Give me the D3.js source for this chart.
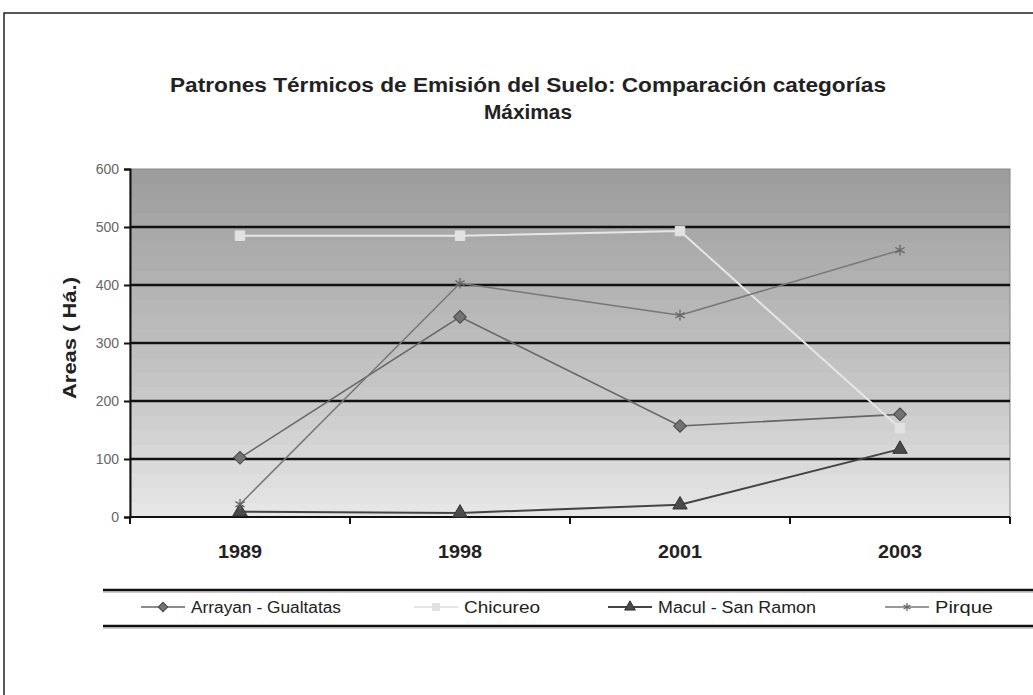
<!DOCTYPE html>
<html><head><meta charset="utf-8">
<script src="https://cdn.jsdelivr.net/npm/d3@7"></script>
<style>body{margin:0;background:#fff}svg{display:block}text{font-family:"Liberation Sans",Arial,sans-serif}</style>
</head><body>
<script>
const categories = ["1989","1998","2001","2003"];
const arrayan = [102, 345, 157, 177];
const chicureo = [485, 485, 493, 153];
const macul = [9, 7, 21, 117];
const pirque = [22, 403, 348, 460];
const seriesNames = ["Arrayan - Gualtatas","Chicureo","Macul - San Ramon","Pirque"];
const yTicks = [0,100,200,300,400,500,600];
const titleLines = ["Patrones Térmicos de Emisión del Suelo: Comparación categorías","Máximas"];
const yTitle = "Areas ( Há.)";

const W = 1033, H = 695;
const m = {left:130, right:1010, top:169, bottom:517};
const svg = d3.select("body").append("svg").attr("width",W).attr("height",H);

// outer frame
svg.append("rect").attr("x",4).attr("y",13).attr("width",1040).attr("height",700)
  .attr("fill","none").attr("stroke","#222").attr("stroke-width",1.5);

const x = d3.scaleBand().domain(categories).range([m.left,m.right]).paddingInner(0).paddingOuter(0);
const y = d3.scaleLinear().domain([0,600]).range([m.bottom,m.top]);
const cx = d => x(d)+x.bandwidth()/2;

// background stepped bands
const bandStep = 25;
const bandColor = d3.scaleLinear().domain([0,200,450,600]).range(["#e8e8e8","#c9c9c9","#adadad","#9b9b9b"]);
const bands = d3.range(0,600,bandStep);
svg.append("g").selectAll("rect").data(bands).join("rect")
  .attr("x",m.left).attr("width",m.right-m.left)
  .attr("y",d=>y(d+bandStep)).attr("height",d=>y(d)-y(d+bandStep)+0.5)
  .attr("fill",d=>bandColor(d+bandStep/2));

// plot border (top/right thin)
svg.append("rect").attr("x",m.left).attr("y",m.top).attr("width",m.right-m.left).attr("height",m.bottom-m.top)
  .attr("fill","none").attr("stroke","#888").attr("stroke-width",1);

// gridlines
svg.append("g").selectAll("line").data(yTicks.filter(v=>v>0&&v<600)).join("line")
  .attr("x1",m.left).attr("x2",m.right).attr("y1",d=>y(d)).attr("y2",d=>y(d))
  .attr("stroke","#111").attr("stroke-width",2.5);

// y axis
const yAxis = d3.axisLeft(y).tickValues(yTicks).tickSize(6).tickPadding(5);
const gy = svg.append("g").attr("transform",`translate(${m.left},0)`).call(yAxis);
gy.select(".domain").attr("stroke","#111").attr("stroke-width",2);
gy.selectAll(".tick line").attr("stroke","#111").attr("stroke-width",2);
gy.selectAll(".tick text").attr("font-size",14).attr("fill","#666").attr("font-family","Liberation Sans, Arial, sans-serif").attr("font-weight","normal");

// x axis
const gx = svg.append("g").attr("transform",`translate(0,${m.bottom})`);
gx.append("line").attr("x1",m.left).attr("x2",m.right).attr("stroke","#111").attr("stroke-width",2);
const bounds = categories.map(c=>x(c)).concat([m.right]);
gx.selectAll("line.tk").data(bounds).join("line").attr("class","tk")
  .attr("x1",d=>d).attr("x2",d=>d).attr("y1",0).attr("y2",7).attr("stroke","#111").attr("stroke-width",2);
gx.selectAll("text").data(categories).join("text")
  .attr("x",d=>cx(d)).attr("y",41).attr("text-anchor","middle")
  .attr("font-size",19).attr("font-weight","bold").attr("fill","#222")
  .attr("textLength",44).attr("lengthAdjust","spacingAndGlyphs").text(d=>d);

// y title
svg.append("text").attr("transform","translate(76,338) rotate(-90)").attr("text-anchor","middle")
  .attr("font-size",19).attr("font-weight","bold").attr("fill","#222")
  .attr("textLength",122).attr("lengthAdjust","spacingAndGlyphs").text(yTitle);

// title
svg.append("g").selectAll("text").data(titleLines).join("text")
  .attr("x",528).attr("y",(d,i)=>92+i*27).attr("text-anchor","middle")
  .attr("font-size",20).attr("font-weight","bold").attr("fill","#222")
  .attr("textLength",(d,i)=>i===0?716:88).attr("lengthAdjust","spacingAndGlyphs")
  .text(d=>d);

// series
const series = [
  {name:seriesNames[0], values:arrayan, stroke:"#666", width:1.6, marker:"diamond", fill:"#737373", mstroke:"#444"},
  {name:seriesNames[1], values:chicureo, stroke:"#e6e6e6", width:2, marker:"square", fill:"#e2e2e2", mstroke:"#e2e2e2"},
  {name:seriesNames[2], values:macul, stroke:"#444", width:2, marker:"triangle", fill:"#4a4a4a", mstroke:"#333"},
  {name:seriesNames[3], values:pirque, stroke:"#777", width:1.5, marker:"star", fill:"none", mstroke:"#666"}
];
const legLen = [150, 76, 158, 58];
const line = d3.line().x((d,i)=>cx(categories[i])).y(d=>y(d));
const symType = {diamond:d3.symbolSquare, square:d3.symbolSquare, triangle:d3.symbolTriangle, star:d3.symbolAsterisk};
const symSize = {diamond:80, square:90, triangle:90, star:80};

function drawMarker(g, s, px, py, scale){
  g.append("path").attr("d",d3.symbol().type(symType[s.marker]).size(symSize[s.marker]*(scale||1))())
    .attr("transform",`translate(${px},${py})` + (s.marker==="diamond"?" rotate(45)":""))
    .attr("fill",s.marker==="star"?"none":s.fill).attr("stroke",s.mstroke).attr("stroke-width",s.marker==="star"?1.3:1);
}

series.forEach(s=>{
  const g = svg.append("g");
  g.append("path").datum(s.values).attr("d",line).attr("fill","none").attr("stroke",s.stroke).attr("stroke-width",s.width);
  s.values.forEach((v,i)=>drawMarker(g,s,cx(categories[i]),y(v)));
});

// legend
const lg = svg.append("g");
[590,626].forEach(yy=>{
  lg.append("line").attr("x1",103).attr("x2",1040).attr("y1",yy).attr("y2",yy).attr("stroke","#111").attr("stroke-width",2.5);
  lg.append("line").attr("x1",103).attr("x2",1040).attr("y1",yy+2).attr("y2",yy+2).attr("stroke","#999").attr("stroke-width",1);
});
const legX = [141,414,608,885];
series.forEach((s,i)=>{
  const g = lg.append("g");
  g.append("line").attr("x1",legX[i]).attr("x2",legX[i]+44).attr("y1",607).attr("y2",607)
    .attr("stroke",s.stroke).attr("stroke-width",s.width);
  drawMarker(g,s,legX[i]+22,607,0.55);
  g.append("text").attr("x",legX[i]+50).attr("y",613).attr("font-size",16).attr("fill","#222")
    .attr("textLength",legLen[i]).attr("lengthAdjust","spacingAndGlyphs").text(s.name);
});
</script>
</body></html>
